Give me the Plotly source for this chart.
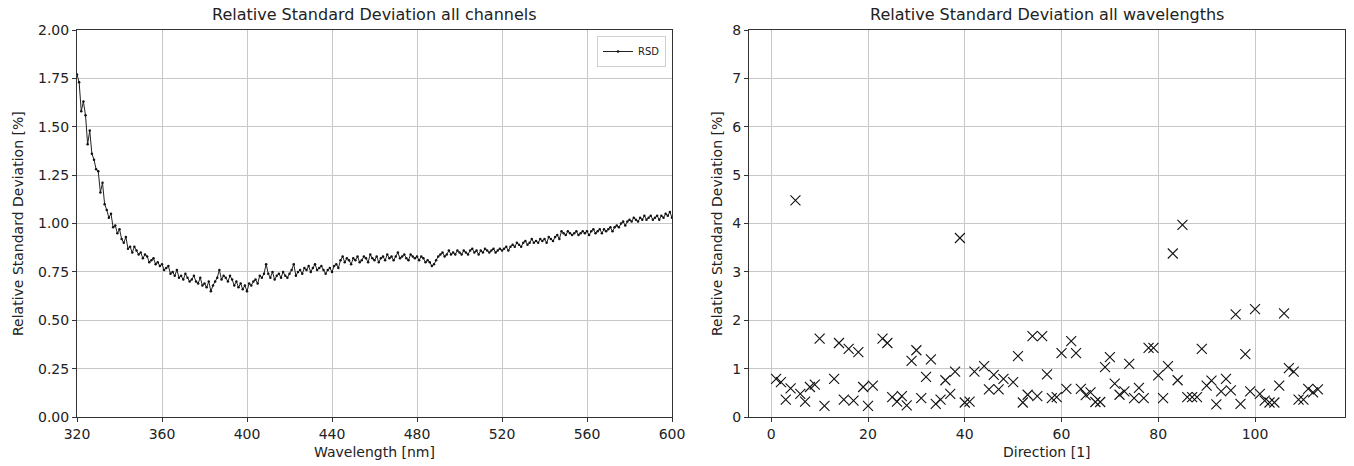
import plotly.graph_objects as go

# ---------------- data ----------------
wavelength_nm = list(range(320, 601))
rsd_channels = [
    1.77, 1.73, 1.58, 1.63, 1.56, 1.41, 1.48, 1.36, 1.33, 1.28,
    1.27, 1.16, 1.21, 1.10, 1.07, 1.03, 1.05, 0.98, 0.99, 0.95,
    0.97, 0.92, 0.90, 0.93, 0.87, 0.88, 0.85, 0.88, 0.86, 0.84,
    0.85, 0.82, 0.84, 0.83, 0.80, 0.81, 0.82, 0.79, 0.80, 0.78,
    0.79, 0.76, 0.77, 0.78, 0.74, 0.75, 0.73, 0.76, 0.72, 0.73,
    0.71, 0.74, 0.72, 0.70, 0.71, 0.73, 0.70, 0.69, 0.72, 0.68,
    0.69, 0.67, 0.70, 0.65, 0.68, 0.70, 0.72, 0.76, 0.71, 0.73,
    0.72, 0.70, 0.73, 0.71, 0.68, 0.70, 0.67, 0.69, 0.66, 0.68,
    0.65, 0.69, 0.68, 0.70, 0.71, 0.69, 0.73, 0.72, 0.74, 0.79,
    0.74, 0.72, 0.75, 0.71, 0.73, 0.74, 0.72, 0.75, 0.73, 0.72,
    0.74, 0.76, 0.79, 0.73, 0.75, 0.76, 0.74, 0.77, 0.76, 0.78,
    0.75, 0.77, 0.79, 0.76, 0.77, 0.78, 0.76, 0.74, 0.76, 0.77,
    0.75, 0.78, 0.79, 0.77, 0.81, 0.83, 0.80, 0.82, 0.81, 0.79,
    0.82, 0.81, 0.83, 0.80, 0.81, 0.83, 0.82, 0.80, 0.84, 0.82,
    0.81, 0.83, 0.80, 0.82, 0.83, 0.81, 0.84, 0.82, 0.83, 0.81,
    0.83, 0.85, 0.82, 0.83, 0.84, 0.82, 0.81, 0.84, 0.83, 0.82,
    0.83, 0.81, 0.83, 0.82, 0.80, 0.81, 0.80, 0.78, 0.79, 0.81,
    0.83, 0.84, 0.85, 0.83, 0.84, 0.86, 0.84, 0.85, 0.84, 0.86,
    0.85, 0.84, 0.86, 0.85, 0.84, 0.86, 0.87, 0.85, 0.86, 0.84,
    0.86, 0.85, 0.87, 0.86, 0.85, 0.86, 0.87, 0.85, 0.86, 0.87,
    0.86, 0.87, 0.88, 0.86, 0.88, 0.89, 0.88, 0.90, 0.89, 0.88,
    0.90, 0.91, 0.89, 0.90, 0.92, 0.90, 0.91, 0.90, 0.92, 0.91,
    0.92, 0.90, 0.93, 0.92, 0.91, 0.93, 0.94, 0.92, 0.96, 0.95,
    0.94, 0.96, 0.95, 0.94, 0.95, 0.96, 0.94, 0.95, 0.96, 0.95,
    0.96, 0.94, 0.96, 0.97, 0.95, 0.96, 0.97, 0.95, 0.97, 0.96,
    0.97, 0.98, 0.96, 0.98, 0.99, 0.98, 1.00, 1.01, 0.99, 1.01,
    1.02, 1.01, 1.03, 1.02, 1.01, 1.03, 1.02, 1.04, 1.02, 1.03,
    1.04, 1.02, 1.03, 1.04, 1.02, 1.04, 1.03, 1.05, 1.04, 1.06,
    1.03,
]

direction = [
    1, 2, 3, 4, 5, 6, 7, 8, 9, 10, 11, 13, 14, 15, 16, 17, 18, 19, 20, 21,
    23, 24, 25, 26, 27, 28, 29, 30, 31, 32, 33, 34, 35, 36, 37, 38, 39, 40, 41, 42,
    44, 45, 46, 47, 48, 50, 51, 52, 53, 54, 55, 56, 57, 58, 59, 60, 61, 62, 63, 64,
    65, 66, 67, 68, 69, 70, 71, 72, 73, 74, 75, 76, 77, 78, 79, 80, 81, 82, 83, 84,
    85, 86, 87, 88, 89, 90, 91, 92, 93, 94, 95, 96, 97, 98, 99, 100, 101, 102, 103, 104,
    105, 106, 107, 108, 109, 110, 111, 112, 113,
]
rsd_wavelengths = [
    0.79, 0.72, 0.36, 0.59, 4.48, 0.48, 0.32, 0.62, 0.67, 1.62, 0.23, 0.79, 1.53, 0.36, 1.41, 0.34, 1.34, 0.62, 0.23, 0.65,
    1.62, 1.53, 0.41, 0.32, 0.43, 0.24, 1.16, 1.38, 0.39, 0.83, 1.19, 0.27, 0.36, 0.76, 0.48, 0.94, 3.70, 0.30, 0.32, 0.94,
    1.05, 0.57, 0.87, 0.57, 0.79, 0.72, 1.26, 0.30, 0.46, 1.67, 0.43, 1.67, 0.88, 0.39, 0.41, 1.32, 0.58, 1.57, 1.32, 0.58,
    0.45, 0.51, 0.31, 0.31, 1.03, 1.24, 0.69, 0.46, 0.53, 1.10, 0.39, 0.60, 0.39, 1.43, 1.43, 0.86, 0.39, 1.05, 3.38, 0.76,
    3.97, 0.41, 0.41, 0.41, 1.41, 0.65, 0.75, 0.26, 0.53, 0.79, 0.55, 2.12, 0.27, 1.30, 0.53, 2.23, 0.48, 0.34, 0.30, 0.30,
    0.65, 2.14, 1.01, 0.94, 0.36, 0.36, 0.58, 0.51, 0.57,
]

left_x_ticks = [320, 360, 400, 440, 480, 520, 560, 600]
left_y_ticks = [0.0, 0.25, 0.5, 0.75, 1.0, 1.25, 1.5, 1.75, 2.0]
right_x_ticks = [0, 20, 40, 60, 80, 100]
right_y_ticks = [0, 1, 2, 3, 4, 5, 6, 7, 8]

# ---------------- figure ----------------
FONT = "DejaVu Sans, Liberation Sans, sans-serif"
W, H = 1354, 466
ML, MR, MT, MB = 77, 9, 30, 49
PW = W - ML - MR
PH = H - MT - MB

fig = go.Figure()

fig.add_trace(go.Scatter(
    x=wavelength_nm, y=rsd_channels, mode="lines+markers", name="RSD",
    line=dict(color="#222222", width=1.0),
    marker=dict(color="#111111", size=2.5),
    xaxis="x", yaxis="y", showlegend=True,
))

fig.add_trace(go.Scatter(
    x=direction, y=rsd_wavelengths, mode="markers", name="RSD all wavelengths",
    marker=dict(symbol="x-thin", size=10, color="#111111",
                line=dict(color="#111111", width=1.1)),
    xaxis="x2", yaxis="y2", showlegend=False,
))

axis_common = dict(
    showline=True, linecolor="#333333", linewidth=1.1, mirror=True,
    ticks="outside", ticklen=4, tickcolor="#333333", tickwidth=1,
    showgrid=True, gridcolor="#c8c8c8", gridwidth=1, zeroline=False,
    tickfont=dict(family=FONT, size=14, color="#222222"),
)

right_start = (749 - ML) / PW

fig.update_layout(
    width=W, height=H,
    margin=dict(l=ML, r=MR, t=MT, b=MB, autoexpand=False),
    paper_bgcolor="white", plot_bgcolor="white",
    font=dict(family=FONT, color="#222222"),
    xaxis=dict(domain=[0, (672 - ML) / PW], range=[320, 600],
               tickvals=left_x_ticks, anchor="y", **axis_common),
    yaxis=dict(domain=[0, 1], range=[0, 2.0], tickvals=left_y_ticks,
               tickformat=".2f", anchor="x", **axis_common),
    xaxis2=dict(domain=[right_start, 1], range=[-4.6, 118.6],
                tickvals=right_x_ticks, anchor="y2", **axis_common),
    yaxis2=dict(domain=[0, 1], range=[0, 8], tickvals=right_y_ticks,
                anchor="x2", **axis_common),
    legend=dict(
        x=(666 - ML) / PW, y=(417 - 36) / PH, xanchor="right", yanchor="top",
        bgcolor="rgba(255,255,255,0.9)", bordercolor="#d0d0d0", borderwidth=1,
        font=dict(family=FONT, size=10, color="#222222"),
        itemwidth=30, tracegroupgap=0,
    ),
)

left_center = ((672 - ML) / PW) / 2
right_center = (right_start + 1) / 2
ann = []
ann.append(dict(text="Relative Standard Deviation all channels", x=left_center,
                y=(417 - 15) / PH, xref="paper", yref="paper", showarrow=False,
                xanchor="center", yanchor="middle",
                font=dict(family=FONT, size=16, color="#222222")))
ann.append(dict(text="Relative Standard Deviation all wavelengths", x=right_center,
                y=(417 - 15) / PH, xref="paper", yref="paper", showarrow=False,
                xanchor="center", yanchor="middle",
                font=dict(family=FONT, size=16, color="#222222")))
ann.append(dict(text="Wavelength [nm]", x=left_center, y=(417 - 452) / PH,
                xref="paper", yref="paper", showarrow=False,
                xanchor="center", yanchor="middle",
                font=dict(family=FONT, size=14, color="#222222")))
ann.append(dict(text="Direction [1]", x=right_center, y=(417 - 452) / PH,
                xref="paper", yref="paper", showarrow=False,
                xanchor="center", yanchor="middle",
                font=dict(family=FONT, size=14, color="#222222")))
ann.append(dict(text="Relative Standard Deviation [%]", x=(18 - ML) / PW,
                y=(417 - 224) / PH, xref="paper", yref="paper", showarrow=False,
                textangle=-90, xanchor="center", yanchor="middle",
                font=dict(family=FONT, size=14, color="#222222")))
ann.append(dict(text="Relative Standard Deviation [%]", x=(717 - ML) / PW,
                y=(417 - 224) / PH, xref="paper", yref="paper", showarrow=False,
                textangle=-90, xanchor="center", yanchor="middle",
                font=dict(family=FONT, size=14, color="#222222")))
fig.update_layout(annotations=ann)

fig.write_html(
    "out.html",
    config={"displayModeBar": False},
    post_script="document.body.style.margin='0';document.body.style.overflow='hidden';",
)
